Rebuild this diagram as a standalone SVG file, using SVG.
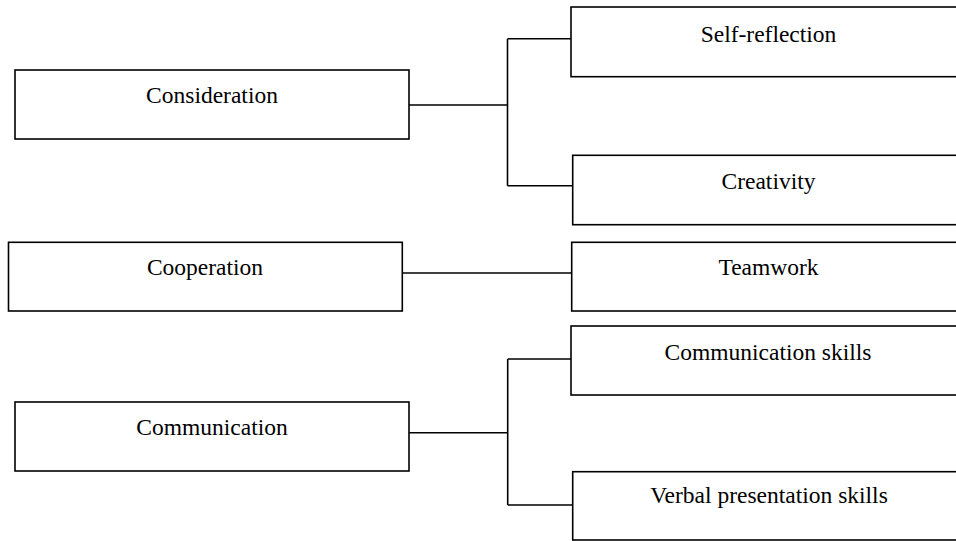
<svg xmlns="http://www.w3.org/2000/svg" width="956" height="541" viewBox="0 0 956 541">
<style>
.box{fill:#fff;stroke:#000;stroke-width:1.6}
.lbl{font-family:"Liberation Serif","Times New Roman",serif;font-size:23.5px;fill:#000;text-anchor:middle}
.con{fill:none;stroke:#000;stroke-width:1.6}
</style>
<rect width="956" height="541" fill="#fff"/>
<g id="connectors">
<path class="con" d="M409 105H507.5M507.5 38.7V185.7M507.5 38.7H573M507.5 185.7H572.5"/>
<path class="con" d="M402.3 273H571.5"/>
<path class="con" d="M409 432.7H507.7M507.7 359V505M507.7 359H571M507.7 505H575"/>
</g>
<g id="consideration"><rect class="box" x="15" y="70" width="394" height="69"/><text class="lbl" x="212" y="103">Consideration</text></g>
<g id="cooperation"><rect class="box" x="8.5" y="242.3" width="393.8" height="68.7"/><text class="lbl" x="205" y="275">Cooperation</text></g>
<g id="communication"><rect class="box" x="15" y="402" width="394" height="69"/><text class="lbl" x="212" y="435">Communication</text></g>
<g id="self-reflection"><rect class="box" x="571" y="7" width="400" height="69.7"/><text class="lbl" x="768.5" y="41.5">Self-reflection</text></g>
<g id="creativity"><rect class="box" x="572.7" y="155.3" width="400" height="69.4"/><text class="lbl" x="768.5" y="189">Creativity</text></g>
<g id="teamwork"><rect class="box" x="571.7" y="242.3" width="400" height="68.7"/><text class="lbl" x="768.5" y="275">Teamwork</text></g>
<g id="communication-skills"><rect class="box" x="571" y="326" width="400" height="69"/><text class="lbl" x="768" y="360">Communication skills</text></g>
<g id="verbal-presentation-skills"><rect class="box" x="572.7" y="471.7" width="400" height="68.3"/><text class="lbl" x="769" y="503">Verbal presentation skills</text></g>
</svg>
